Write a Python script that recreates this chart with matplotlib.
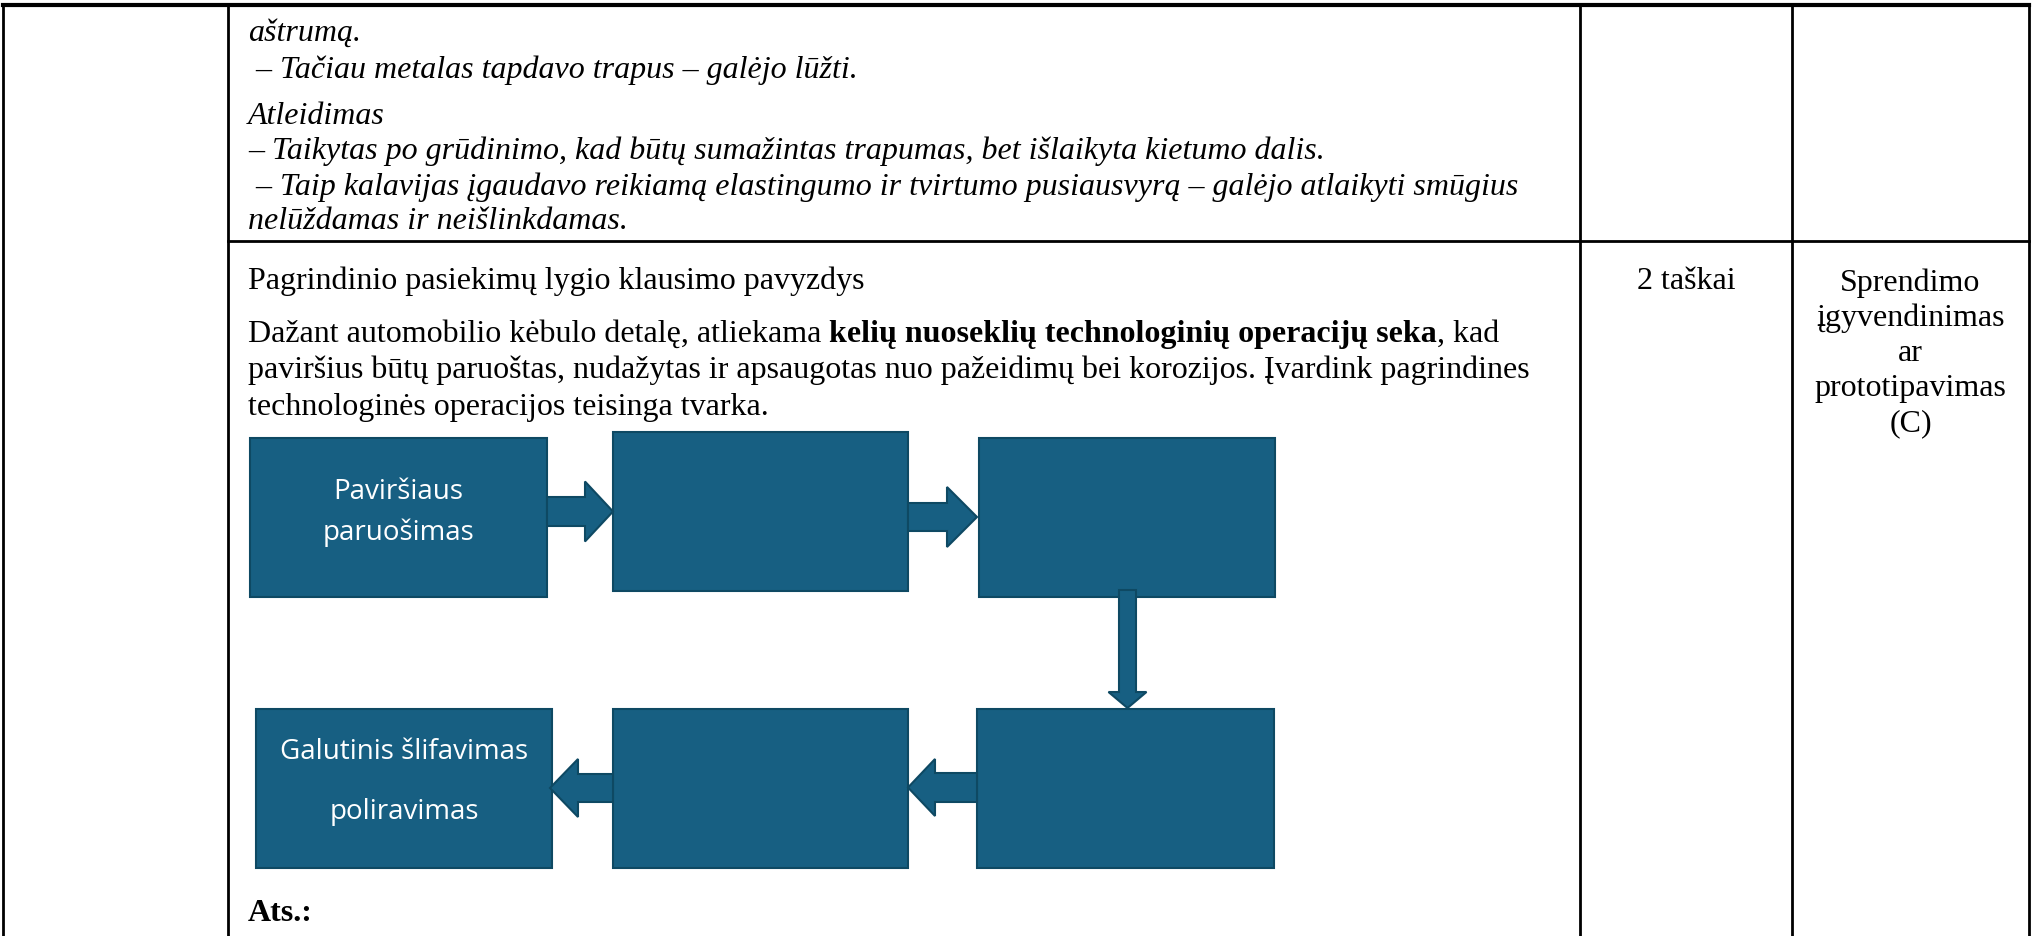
import matplotlib.pyplot as plt
from matplotlib.patches import Rectangle, Polygon

# table text
top_lines = ["aštrumą.",
             " – Tačiau metalas tapdavo trapus – galėjo lūžti.",
             "Atleidimas",
             "– Taikytas po grūdinimo, kad būtų sumažintas trapumas, bet išlaikyta kietumo dalis.",
             " – Taip kalavijas įgaudavo reikiamą elastingumo ir tvirtumo pusiausvyrą – galėjo atlaikyti smūgius",
             "nelūždamas ir neišlinkdamas."]
top_baselines = [41, 78, 124, 159, 195, 229]

title_line = "Pagrindinio pasiekimų lygio klausimo pavyzdys"
question_runs = [[("Dažant automobilio kėbulo detalę, atliekama ", "normal"),
                  ("kelių nuoseklių technologinių operacijų seka", "bold"),
                  (", kad", "normal")],
                 [("paviršius būtų paruoštas, nudažytas ir apsaugotas nuo pažeidimų bei korozijos. Įvardink pagrindines", "normal")],
                 [("technologinės operacijos teisinga tvarka.", "normal")]]
question_baselines = [342, 378, 415]
points_text = "2 taškai"
area_lines = ["Sprendimo", "įgyvendinimas", "ar", "prototipavimas", "(C)"]
answer_text = "Ats.:"

# flowchart: boxes (left, top, right, bottom) and their labels
boxes = [(250, 439, 547, 598), (613, 433, 908, 592), (979, 439, 1275, 598),
         (977, 710, 1274, 869), (613, 710, 908, 869), (256, 710, 552, 869)]
box_labels = [["Paviršiaus", "paruošimas"], [], [], [], [], ["Galutinis šlifavimas", "poliravimas"]]
label_y = [[492, 533], [], [], [], [], [752, 812]]
# arrows: start, end, along-axis center, shaft half width, head half width, head length
arrows = [((547, 613), 512.5, 'h', 14.5, 30, 28),
          ((908, 977), 518, 'h', 14, 30, 30),
          ((591, 709), 1127.5, 'v', 8.5, 19, 16),
          ((977, 908), 788.5, 'h', 14.5, 28.5, 27),
          ((613, 550), 789, 'h', 14, 29, 28)]

fill = "#175f82"
edge = "#0e4963"
serif = "Liberation Serif"
fs = 23

fig = plt.figure(figsize=(20.35, 9.37), dpi=100)
ax = fig.add_axes([0, 0, 1, 1])
ax.set_xlim(0, 2035)
ax.set_ylim(937, 0)
ax.axis('off')

# table grid
xl, xc1, xc3, xc4, xr = 3, 228, 1580, 1792, 2029
ytop, yrow = 6, 242
lw = 2.0
ax.plot([xl, xr], [ytop, ytop], color='black', lw=3.0, solid_capstyle='projecting')
for x in [xl, xc1, xc3, xc4, xr]:
    ax.plot([x, x], [ytop, 937], color='black', lw=lw)
ax.plot([xc1, xr], [yrow, yrow], color='black', lw=lw)

tx = 248
for s, y in zip(top_lines, top_baselines):
    ax.text(tx, y, s, fontsize=fs, family=serif, style='italic', va='baseline', ha='left')

ax.text(tx, 289, title_line, fontsize=fs, family=serif, va='baseline', ha='left')
fig.canvas.draw()
renderer = fig.canvas.get_renderer()
for runs, y in zip(question_runs, question_baselines):
    x = tx
    for s, w in runs:
        t = ax.text(x, y, s, fontsize=fs, family=serif, weight=w, va='baseline', ha='left')
        x += t.get_window_extent(renderer).width

ax.text((xc3 + xc4) / 2, 289, points_text, fontsize=fs, family=serif, va='baseline', ha='center')
for i, s in enumerate(area_lines):
    ax.text((xc4 + xr) / 2, 291 + 35 * i, s, fontsize=fs, family=serif, va='baseline', ha='center')
ax.text(tx, 921, answer_text, fontsize=fs, family=serif, weight='bold', va='baseline', ha='left')

# boxes
for (l, t, r, b), labels, ys in zip(boxes, box_labels, label_y):
    ax.add_patch(Rectangle((l, t), r - l, b - t, facecolor=fill, edgecolor=edge, lw=1.5, zorder=2))
    for s, y in zip(labels, ys):
        ax.text((l + r) / 2, y, s, fontsize=20, family="Open Sans", color='white',
                ha='center', va='center', zorder=3)


def block_arrow(a, b, c, orient, sw, hw, hl):
    d = 1 if b > a else -1
    base = b - d * hl
    pts = [(a, c - sw), (base, c - sw), (base, c - hw), (b, c),
           (base, c + hw), (base, c + sw), (a, c + sw)]
    if orient == 'v':
        pts = [(q, p) for p, q in pts]
    return Polygon(pts, closed=True, facecolor=fill, edgecolor=edge, lw=1.5, zorder=4)


for (a, b), c, orient, sw, hw, hl in arrows:
    ax.add_patch(block_arrow(a, b, c, orient, sw, hw, hl))

fig.savefig("out.png", dpi=100)
